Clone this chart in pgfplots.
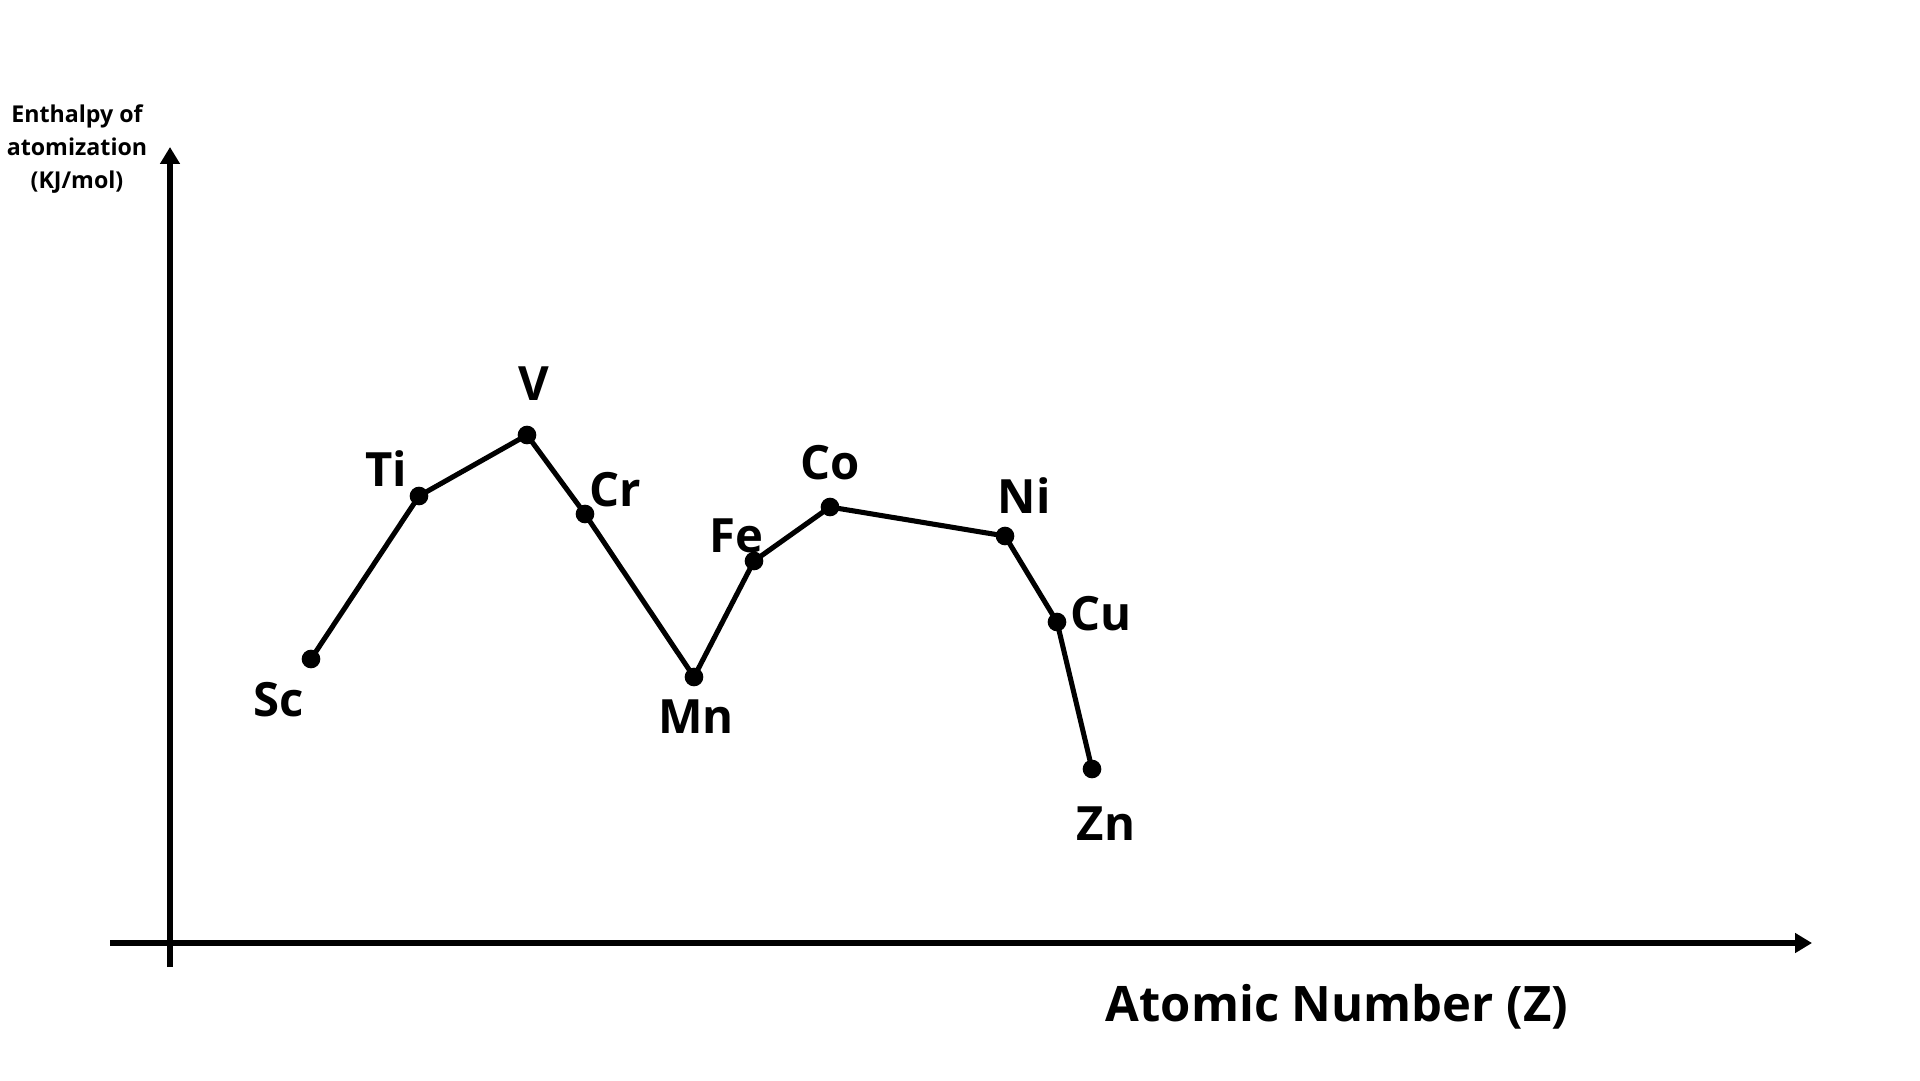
\documentclass[border=0pt]{standalone}
\usepackage{pgfplots}
\pgfplotsset{compat=1.18}
\usepackage{fontspec}
\setmainfont{Open Sans}[BoldFont={* Bold}]
\usetikzlibrary{arrows.meta}
\begin{document}
\begin{tikzpicture}
\begin{axis}[
  scale only axis, width=16cm, height=9cm,
  xmin=0, xmax=1920, ymin=0, ymax=1080,
  hide axis, clip=false,
]
\path[draw=none] (axis cs:0,0) rectangle (axis cs:1920,1080);
% axes
\draw[line width=1.25pt, -{Triangle[length=4pt,width=4.5pt]}] (axis cs:110,137) -- (axis cs:1812,137);
\draw[line width=1.25pt, -{Triangle[length=4pt,width=4.5pt]}] (axis cs:170,113) -- (axis cs:170,933);
% data
\addplot[black, line width=1.2pt, mark=*, mark size=1.6pt] coordinates {
 (311,421) (419,584) (527,645) (585,566) (694,403) (754,519) (830,573) (1005,544) (1057,458) (1092,311)
};
% labels
\begin{scope}[every node/.style={font=\fontsize{11.2}{13}\selectfont\bfseries, anchor=base, inner sep=0pt}]
\node at (axis cs:279,364) {Sc};
\node at (axis cs:386,594) {Ti};
\node at (axis cs:534,680) {V};
\node at (axis cs:615,574) {Cr};
\node at (axis cs:696,347) {Mn};
\node at (axis cs:736,528) {Fe};
\node at (axis cs:830,601) {Co};
\node at (axis cs:1024,567) {Ni};
\node at (axis cs:1101,450) {Cu};
\node at (axis cs:1106,240) {Zn};
\end{scope}
\node[font=\fontsize{11.6}{14}\selectfont\bfseries, anchor=base, inner sep=0pt] at (axis cs:1337,59) {Atomic Number (Z)};
\node[font=\fontsize{5.5}{7.8}\selectfont\bfseries, align=center, inner sep=0pt] at (axis cs:77,931) {Enthalpy of\\atomization\\(KJ/mol)};
\end{axis}
\end{tikzpicture}
\end{document}
